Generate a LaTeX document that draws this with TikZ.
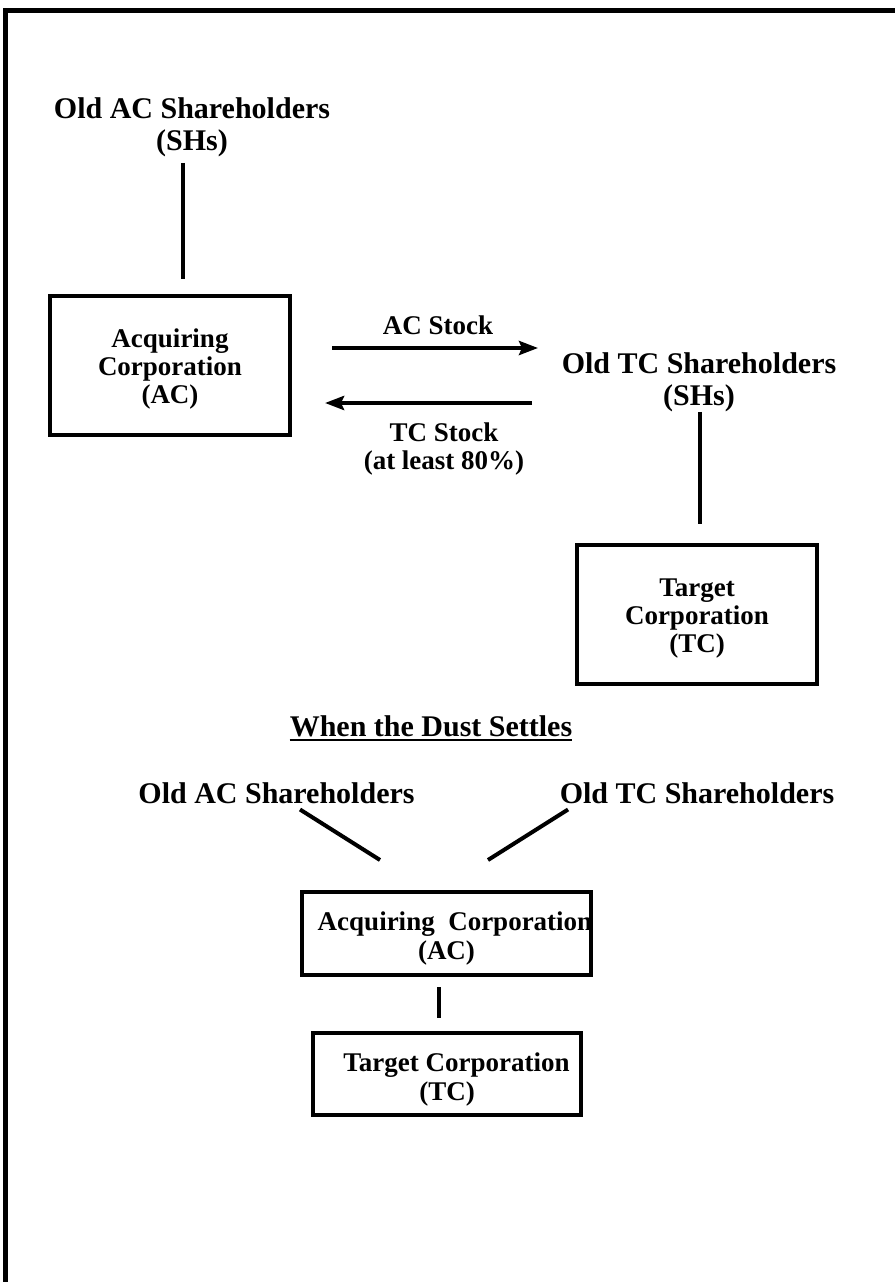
\documentclass[tikz,border=0pt]{standalone}
\usepackage{fontspec}
\setmainfont{Liberation Serif}
\usetikzlibrary{arrows.meta,calc}
\begin{document}
\begin{tikzpicture}[x=1pt,y=-1pt,
  headtext/.style={font=\fontsize{30}{31.5}\selectfont\bfseries, inner sep=0pt, align=center},
  flowtext/.style={font=\fontsize{27}{28}\selectfont\bfseries, inner sep=0pt, align=center},
  corpbox/.style={draw, line width=4pt, inner sep=0pt},
  corptext/.style={font=\fontsize{27}{28}\selectfont\bfseries, inner sep=0pt,
                   align=center, yshift=-4pt},
  corptextwide/.style={corptext, font=\fontsize{27}{29}\selectfont\bfseries, yshift=-1pt},
  connector/.style={line width=4pt},
  transfer/.style={line width=4pt, -{Stealth[length=19pt,width=14pt,inset=3pt]}}
]
% page and frame
\fill[white] (0,0) rectangle (895,1282);
\useasboundingbox (0,0) rectangle (895,1282);
\draw[line width=5pt] (5.5,1282) -- (5.5,10) -- (895,10);

% ---- the exchange ----
\node[headtext] (oldAC) at (192,127.2) {Old AC Shareholders\\(SHs)};
\node[corpbox, minimum width=240pt, minimum height=139pt,
      label={[corptext]center:{Acquiring\\Corporation\\(AC)}}] (acbox) at (170,365.5) {};
\node[headtext] (oldTC) at (699,382.4) {Old TC Shareholders\\(SHs)};
\node[corpbox, minimum width=240pt, minimum height=139pt,
      label={[corptext]center:{Target\\Corporation\\(TC)}}] (tcbox) at (697,614.5) {};
\node[flowtext, anchor=base] (acstock) at (438,334) {AC Stock};
\node[flowtext] (tcstock) at (444,449.2) {TC Stock\\(at least 80\%)};

\draw[connector, shorten <=6pt, shorten >=15pt]
  (oldAC.south -| 183,0) -- (acbox.north -| 183,0);
\draw[connector, shorten >=19pt]
  (oldTC.south -| 700,0) -- (tcbox.north -| 700,0);
\draw[transfer, shorten <=40pt, shorten >=23.5pt]
  (acbox.east |- 0,348) -- (oldTC.west |- 0,348);
\draw[transfer, shorten <=29.5pt, shorten >=33pt]
  (oldTC.west |- 0,403) -- (acbox.east |- 0,403);

% ---- after the exchange ----
\node[headtext, anchor=base] (dust) at (431,736) {When the Dust Settles};
\draw[line width=2.2pt] ([yshift=-4pt]dust.base west) -- ([yshift=-4pt]dust.base east);

\node[headtext, anchor=base] (oldACb) at (276.5,803) {Old AC Shareholders};
\node[headtext, anchor=base] (oldTCb) at (697,803) {Old TC Shareholders};
\node[corpbox, minimum width=289pt, minimum height=83pt,
      label={[corptextwide]center:{\hspace*{17pt}Acquiring\ \ Corporation\\(AC)}}]
  (acb) at (446.5,933.5) {};
\node[corpbox, minimum width=268pt, minimum height=82pt,
      label={[corptextwide]center:{\hspace*{19pt}Target Corporation\\(TC)}}]
  (tcb) at (447,1074) {};

\draw[connector] ($(oldACb.south)+(23.5,6)$) -- ($(acb.north)+(-66.5,-30)$);
\draw[connector] ($(oldTCb.south west)+(8.5,6)$) -- ($(acb.north)+(41.5,-30)$);
\draw[connector, shorten <=10pt, shorten >=13pt]
  (acb.south -| 439,0) -- (tcb.north -| 439,0);
\end{tikzpicture}
\end{document}
